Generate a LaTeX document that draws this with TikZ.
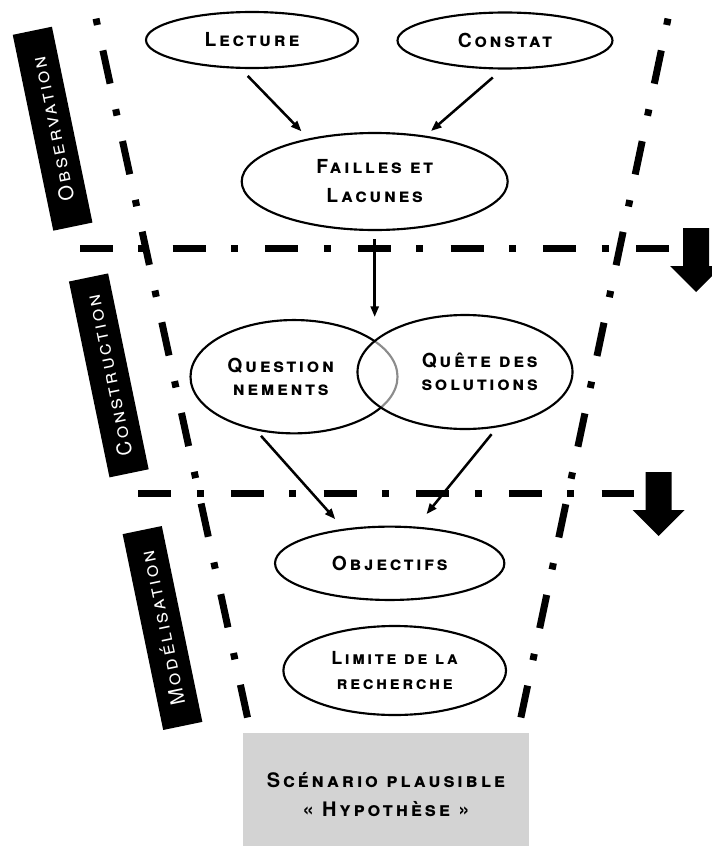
\documentclass[tikz,border=0pt]{standalone}
\usepackage{fontspec}
\setmainfont{TeX Gyre Heros}
\newfontfamily\stepfont{TeX Gyre Heros}[LetterSpace=14]
\usetikzlibrary{shapes.geometric,arrows.meta}

\tikzset{every picture/.style={line width=0.75pt}}
\definecolor{boxgray}{RGB}{211,211,211}

\tikzset{
  bubble/.style={draw, ellipse, line width=1.6pt, inner sep=0pt, align=center,
    font=\stepfont\fontsize{14.5}{17.5}\selectfont\bfseries\scshape},
  phase/.style={fill=black, text=white, minimum width=150pt, minimum height=30pt,
    inner sep=0pt, rotate=101.7, font=\stepfont\fontsize{15}{16}\selectfont\scshape},
  flow/.style={-{Triangle[length=8pt,width=6pt]}, line width=1.9pt},
  border/.style={line width=5.25pt, dash pattern=on 4.9pt off 19.5pt on 25.5pt off 19.65pt},
  stage/.style={line width=5.25pt, dash pattern=on 24.75pt off 19.1pt on 5.25pt off 20.4pt},
}

\begin{document}
\begin{tikzpicture}[x=0.75pt,y=0.75pt,yscale=-1]
	\useasboundingbox (0,0) rectangle (712,846);
	\clip (0,0) rectangle (712,846);

	% funnel borders
	\draw[border] (96,18.6) -- (247.5,717.5);
	\draw[border] (668,18.6) -- (520.9,717.5);
	% stage separators
	\draw[stage] (80,248.3) -- (669,248.3);
	\draw[stage] (138.3,493.3) -- (634.3,493.3);
	% big down arrows
	\foreach \x/\y in {696/228, 658.5/472}
	  \fill (\x-13,\y) -- (\x+13,\y) -- (\x+13,\y+38) -- (\x+26,\y+38) -- (\x,\y+64) -- (\x-26,\y+38) -- (\x-13,\y+38) -- cycle;

	% phase labels
	\node[phase] (obs) at (52.6,128.7) {Observation};
	\node[phase] (cons) at (108.8,375.4) {Construction};
	\node[phase] (mod) at (162.5,628) {Modélisation};

	% bubbles
	\node[bubble, minimum width=159pt, minimum height=42pt] (lecture) at (252,40) {Lecture};
	\node[bubble, minimum width=161.25pt, minimum height=42pt] (constat) at (505,40.5) {Constat};
	\node[bubble, minimum width=199.5pt, minimum height=72.75pt,
	  font=\stepfont\fontsize{14.5}{21.75}\selectfont\bfseries\scshape] (failles) at (374.7,181.5) {Failles et\\Lacunes};
	\node[bubble, minimum width=155.25pt, minimum height=85pt] (question) at (294,376.7)
	  {Question\hspace*{20pt}\\nements\hspace*{20pt}};
	\node[bubble, minimum width=161.25pt, minimum height=85.5pt, fill=white, fill opacity=0.55,
	  text opacity=1] (quete) at (465,372) {\hspace*{22pt}Quête des\\\hspace*{22pt}solutions};
	\node[bubble, minimum width=172pt, minimum height=55pt] (objectifs) at (389.7,563.3) {Objectifs};
	\node[bubble, minimum width=167pt, minimum height=66.75pt,
	  font=\stepfont\fontsize{13.5}{19.3}\selectfont\bfseries\scshape] (limite) at (394.7,670.5) {Limite de la\\recherche};
	\node[fill=boxgray, minimum width=215pt, minimum height=93pt, align=center,
	  font=\stepfont\fontsize{15}{21.75}\selectfont\bfseries\scshape] (scenario) at (386,795) {Scénario plausible\\« Hypothèse »};

	\coordinate (venn) at (failles.south |- question.north);

	% connectors
	\draw[flow, shorten <=7.3pt, shorten >=7.4pt] (lecture.249) -- (failles.147);
	\draw[flow, shorten <=9.1pt, shorten >=5.3pt] (constat.264) -- (failles.42);
	\draw[flow, shorten <=6pt, shorten >=1.5pt] (failles.south) -- (venn);
	\draw[flow, shorten <=5.3pt, shorten >=9.5pt] (question.235) -- (objectifs.143);
	\draw[flow, shorten <=6.5pt, shorten >=12pt] (quete.300) -- (objectifs.54);

\end{tikzpicture}
\end{document}
